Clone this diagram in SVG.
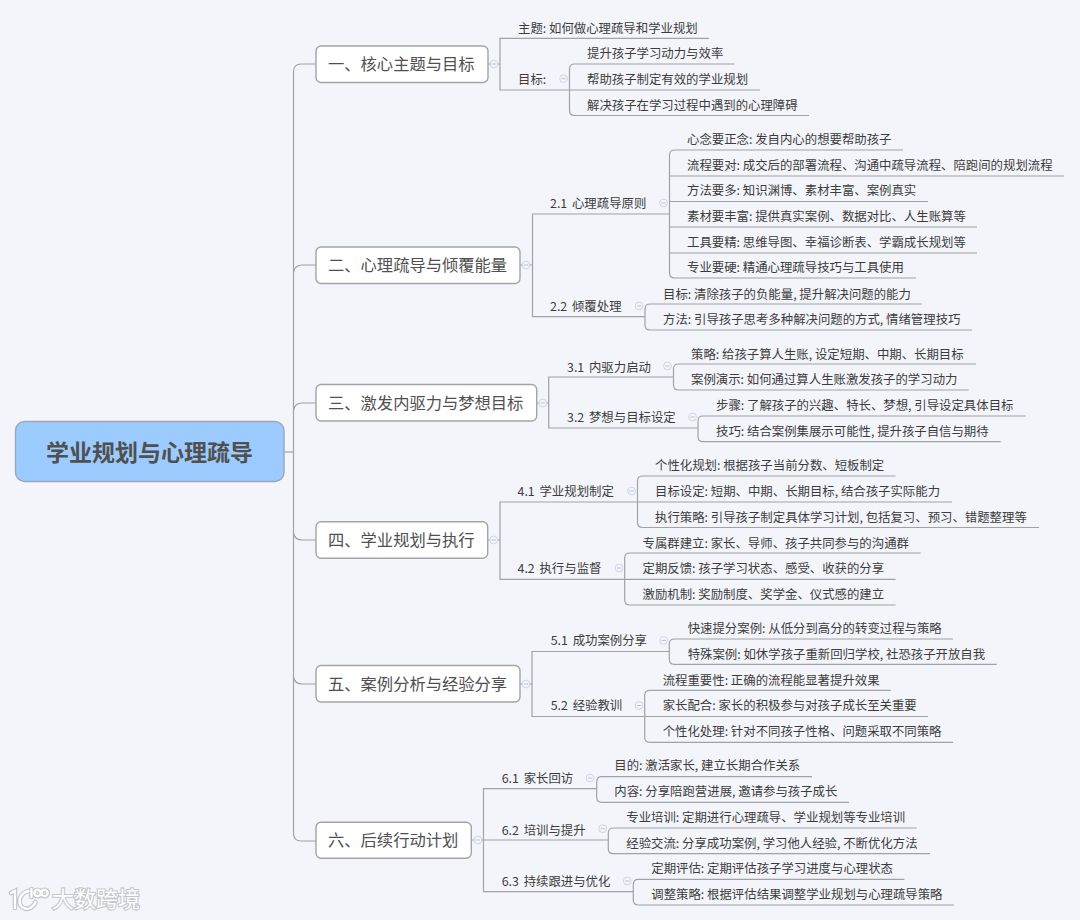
<svg xmlns="http://www.w3.org/2000/svg" width="1080" height="920" viewBox="0 0 1080 920">
<style>
text{font-family:"Noto Sans CJK SC","Liberation Sans",sans-serif}
.t{font-size:12.4px;fill:#3c3c3c}
.t2{word-spacing:2px}
.l1{font-size:16.3px;fill:#505050}
.root{font-size:23px;font-weight:700;fill:#505050}
.box{fill:#fff;stroke:#a4a4a6;stroke-width:1.4}
.rootbox{fill:#9ccbff;stroke:#9ba6b6;stroke-width:1.4}
.c{fill:none;stroke:#a2a2a4;stroke-width:1.2}
.wm{font-size:22px;fill:#fff;stroke:#c4c6cc;stroke-width:2.2;paint-order:stroke}
.wl{fill:none;stroke:#c0c2c8;stroke-width:4.6;stroke-linecap:round}
.wf{fill:none;stroke:#fff;stroke-width:2.4;stroke-linecap:round}
</style>
<defs>
<g id="cb"><circle r="3.9" fill="#f3f5fb" stroke="#cbd5ea" stroke-width="1"/><path d="M-2.2 0H2.2" stroke="#b8c2d8" stroke-width="1"/></g>
<g id="logo"><path d="M11 893L15 891V908M28.500 891C20 893 17 902 22 907C27 911 33 908 35.500 902M31.500 889V897"/><circle cx="37.500" cy="893" r="3.200"/><circle cx="44.500" cy="893" r="3.200"/></g>
</defs>
<rect width="1080" height="920" fill="#f3f5fb"/>
<g id="connectors" class="c">
<path d="M284 452H293.500"/>
<path d="M316 64H301Q293.500 64 293.500 72V833Q293.500 841 301 841H316"/>
<path d="M316 265H302Q295 265 293.500 272"/>
<path d="M316 403H302Q295 403 293.500 410"/>
<path d="M316 540H302Q295 540 293.500 533"/>
<path d="M316 684H302Q295 684 293.500 677"/>
<path d="M488 64H500M709 38.300H500V90H569.500"/>
<path d="M734.600 64H574.500Q569.500 64 569.500 69V110.500Q569.500 115.500 574.500 115.500H809M760 90H569.500"/>
<path d="M520 265H532.500M669.500 214H532.500V316.700H645"/>
<path d="M903 150H674.500Q669.500 150 669.500 155V273Q669.500 278 674.500 278H916M1064 176H669.500M928 201.500H669.500M977 227H669.500M977 253H669.500"/>
<path d="M922 304H650Q645 304 645 309V325Q645 330 650 330H972"/>
<path d="M536.700 403H548.700M673.500 377H548.700V428H698"/>
<path d="M976 364H678.500Q673.500 364 673.500 369V385Q673.500 390 678.500 390H968.600"/>
<path d="M1025.700 416H703Q698 416 698 421V436.700Q698 441.700 703 441.700H1000.700"/>
<path d="M487.700 540H500M637.500 502H500V579.300H624.700"/>
<path d="M895.600 476H642.500Q637.500 476 637.500 481V522.500Q637.500 527.500 642.500 527.500H1039M952 502H637.500"/>
<path d="M920.700 553H629.700Q624.700 553 624.700 558V600Q624.700 605 629.700 605H895.600M895.600 579.300H624.700"/>
<path d="M520 684H532M669.300 651.500H532V716.500H644.700"/>
<path d="M953 639H674.300Q669.300 639 669.300 644V659.300Q669.300 664.300 674.300 664.300H996.700"/>
<path d="M890.700 690.300H649.700Q644.700 690.300 644.700 695.300V737.300Q644.700 742.300 649.700 742.300H953M928 716.500H644.700"/>
<path d="M471.300 840H483.500M596.700 788.700H483.500V891.700H633.300M608.300 840H483.500"/>
<path d="M812 776.700H601.700Q596.700 776.700 596.700 781.700V797.300Q596.700 802.300 601.700 802.300H849"/>
<path d="M916.700 828H613.300Q608.300 828 608.300 833V848.700Q608.300 853.700 613.300 853.700H930"/>
<path d="M904.300 879.300H638.300Q633.300 879.300 633.300 884.300V900Q633.300 905 638.300 905H954"/>
</g>
<g id="root"><rect class="rootbox" x="15.500" y="421.500" width="268.500" height="60" rx="9"/><text class="root" x="46" y="460.500">学业规划与心理疏导</text></g>
<g id="n1"><rect class="box" x="316" y="46" width="172" height="36.500" rx="5"/><text class="l1" x="328" y="70">一、核心主题与目标</text><use href="#cb" x="494" y="64"/></g>
<g id="n1-1"><text class="t" x="518" y="32.500">主题: 如何做心理疏导和学业规划</text></g>
<g id="n1-2"><text class="t" x="518" y="83.500">目标:</text><use href="#cb" x="563.600" y="78.700"/></g>
<g id="n1-2-1"><text class="t" x="587" y="57.500">提升孩子学习动力与效率</text></g>
<g id="n1-2-2"><text class="t" x="587" y="83.500">帮助孩子制定有效的学业规划</text></g>
<g id="n1-2-3"><text class="t" x="587" y="109.500">解决孩子在学习过程中遇到的心理障碍</text></g>
<g id="n2"><rect class="box" x="316" y="247" width="204" height="36.500" rx="5"/><text class="l1" x="328" y="271">二、心理疏导与倾覆能量</text><use href="#cb" x="526" y="265"/></g>
<g id="n2-1"><text class="t t2" x="550" y="207.500">2.1 心理疏导原则</text><use href="#cb" x="663.500" y="203"/></g>
<g id="n2-1-1"><text class="t" x="687" y="143.500">心念要正念: 发自内心的想要帮助孩子</text></g>
<g id="n2-1-2"><text class="t" x="687" y="169.500">流程要对: 成交后的部署流程、沟通中疏导流程、陪跑间的规划流程</text></g>
<g id="n2-1-3"><text class="t" x="687" y="195">方法要多: 知识渊博、素材丰富、案例真实</text></g>
<g id="n2-1-4"><text class="t" x="687" y="220.500">素材要丰富: 提供真实案例、数据对比、人生账算等</text></g>
<g id="n2-1-5"><text class="t" x="687" y="246.500">工具要精: 思维导图、幸福诊断表、学霸成长规划等</text></g>
<g id="n2-1-6"><text class="t" x="687" y="271.500">专业要硬: 精通心理疏导技巧与工具使用</text></g>
<g id="n2-2"><text class="t t2" x="550" y="310.500">2.2 倾覆处理</text><use href="#cb" x="639" y="306"/></g>
<g id="n2-2-1"><text class="t" x="663" y="298.500">目标: 清除孩子的负能量, 提升解决问题的能力</text></g>
<g id="n2-2-2"><text class="t" x="663" y="323.500">方法: 引导孩子思考多种解决问题的方式, 情绪管理技巧</text></g>
<g id="n3"><rect class="box" x="316" y="384.500" width="220.700" height="36.500" rx="5"/><text class="l1" x="328" y="409">三、激发内驱力与梦想目标</text><use href="#cb" x="542.700" y="403"/></g>
<g id="n3-1"><text class="t t2" x="567" y="371.500">3.1 内驱力启动</text><use href="#cb" x="667.500" y="366"/></g>
<g id="n3-1-1"><text class="t" x="691" y="358.500">策略: 给孩子算人生账, 设定短期、中期、长期目标</text></g>
<g id="n3-1-2"><text class="t" x="691" y="383.500">案例演示: 如何通过算人生账激发孩子的学习动力</text></g>
<g id="n3-2"><text class="t t2" x="567" y="421.500">3.2 梦想与目标设定</text><use href="#cb" x="692.500" y="417"/></g>
<g id="n3-2-1"><text class="t" x="716" y="409.500">步骤: 了解孩子的兴趣、特长、梦想, 引导设定具体目标</text></g>
<g id="n3-2-2"><text class="t" x="716" y="436">技巧: 结合案例集展示可能性, 提升孩子自信与期待</text></g>
<g id="n4"><rect class="box" x="316" y="521.700" width="171.700" height="36.500" rx="5"/><text class="l1" x="328" y="546">四、学业规划与执行</text><use href="#cb" x="493.700" y="540"/></g>
<g id="n4-1"><text class="t t2" x="517.500" y="496">4.1 学业规划制定</text><use href="#cb" x="631.600" y="491"/></g>
<g id="n4-1-1"><text class="t" x="655" y="470">个性化规划: 根据孩子当前分数、短板制定</text></g>
<g id="n4-1-2"><text class="t" x="655" y="496">目标设定: 短期、中期、长期目标, 结合孩子实际能力</text></g>
<g id="n4-1-3"><text class="t" x="655" y="521.500">执行策略: 引导孩子制定具体学习计划, 包括复习、预习、错题整理等</text></g>
<g id="n4-2"><text class="t t2" x="517.500" y="572.500">4.2 执行与监督</text><use href="#cb" x="619" y="568"/></g>
<g id="n4-2-1"><text class="t" x="642.500" y="547.500">专属群建立: 家长、导师、孩子共同参与的沟通群</text></g>
<g id="n4-2-2"><text class="t" x="642.500" y="572.500">定期反馈: 孩子学习状态、感受、收获的分享</text></g>
<g id="n4-2-3"><text class="t" x="642.500" y="599">激励机制: 奖励制度、奖学金、仪式感的建立</text></g>
<g id="n5"><rect class="box" x="316" y="665.500" width="204" height="36.500" rx="5"/><text class="l1" x="328" y="690">五、案例分析与经验分享</text><use href="#cb" x="526" y="684"/></g>
<g id="n5-1"><text class="t t2" x="550.700" y="645">5.1 成功案例分享</text><use href="#cb" x="663.700" y="640.500"/></g>
<g id="n5-1-1"><text class="t" x="687.700" y="632.500">快速提分案例: 从低分到高分的转变过程与策略</text></g>
<g id="n5-1-2"><text class="t" x="687.700" y="658.500">特殊案例: 如休学孩子重新回归学校, 社恐孩子开放自我</text></g>
<g id="n5-2"><text class="t t2" x="550.700" y="710">5.2 经验教训</text><use href="#cb" x="639" y="705.500"/></g>
<g id="n5-2-1"><text class="t" x="662.700" y="684.500">流程重要性: 正确的流程能显著提升效果</text></g>
<g id="n5-2-2"><text class="t" x="662.700" y="710">家长配合: 家长的积极参与对孩子成长至关重要</text></g>
<g id="n5-2-3"><text class="t" x="662.700" y="735.500">个性化处理: 针对不同孩子性格、问题采取不同策略</text></g>
<g id="n6"><rect class="box" x="316" y="822.300" width="155.300" height="36" rx="5"/><text class="l1" x="328" y="846">六、后续行动计划</text><use href="#cb" x="478" y="840"/></g>
<g id="n6-1"><text class="t t2" x="501.700" y="783">6.1 家长回访</text><use href="#cb" x="590" y="778"/></g>
<g id="n6-1-1"><text class="t" x="614.300" y="769.500">目的: 激活家长, 建立长期合作关系</text></g>
<g id="n6-1-2"><text class="t" x="614.300" y="795.500">内容: 分享陪跑营进展, 邀请参与孩子成长</text></g>
<g id="n6-2"><text class="t t2" x="501.700" y="834.500">6.2 培训与提升</text><use href="#cb" x="602.700" y="828.700"/></g>
<g id="n6-2-1"><text class="t" x="626.300" y="822">专业培训: 定期进行心理疏导、学业规划等专业培训</text></g>
<g id="n6-2-2"><text class="t" x="626.300" y="847.500">经验交流: 分享成功案例, 学习他人经验, 不断优化方法</text></g>
<g id="n6-3"><text class="t t2" x="501.700" y="885.500">6.3 持续跟进与优化</text><use href="#cb" x="627.300" y="881"/></g>
<g id="n6-3-1"><text class="t" x="651.300" y="873">定期评估: 定期评估孩子学习进度与心理状态</text></g>
<g id="n6-3-2"><text class="t" x="651.300" y="898.500">调整策略: 根据评估结果调整学业规划与心理疏导策略</text></g>
<g id="watermark"><use href="#logo" class="wl"/><use href="#logo" class="wf"/><text class="wm" x="52" y="907">大数跨境</text></g>
</svg>
